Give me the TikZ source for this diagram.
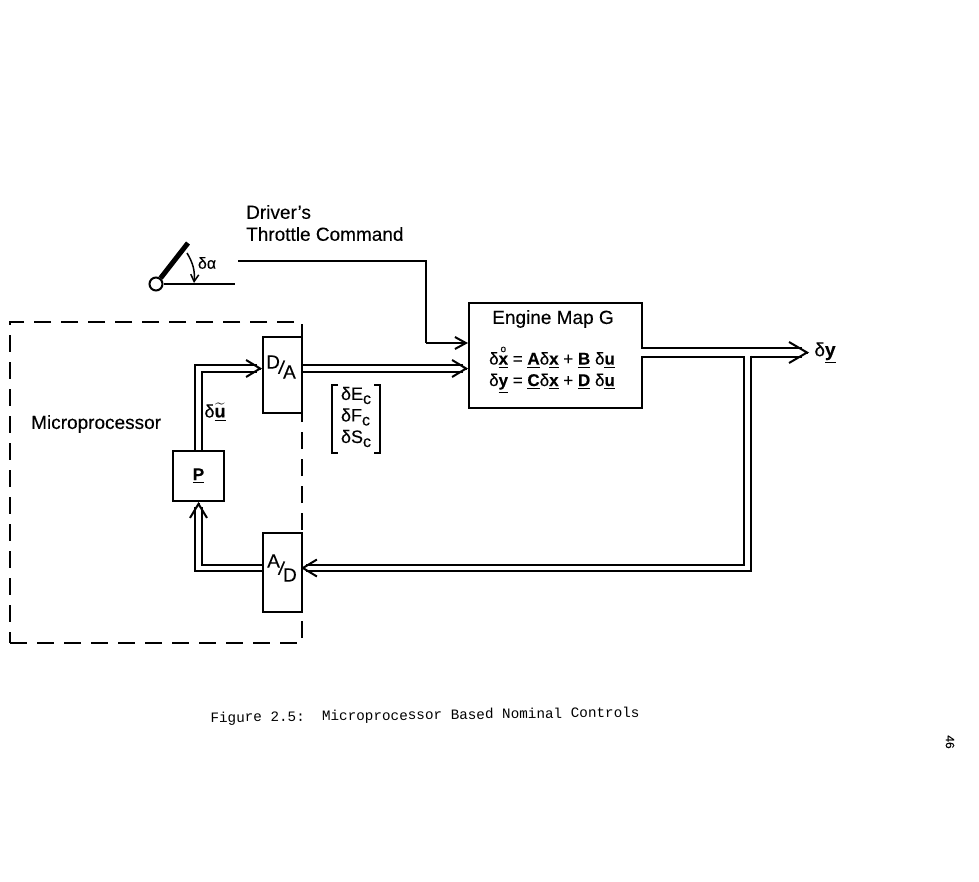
\documentclass[tikz,border=0pt]{standalone}
\usepackage{amsmath}
\usepackage{fontspec}
\setmainfont[FakeBold=0.2]{Liberation Sans}
\setmonofont{Liberation Mono}
\usetikzlibrary{arrows.meta, calc}
\newcommand{\vecb}[1]{\underline{\textbf{#1}}}
\newcommand{\updown}[3]{\raisebox{#3}{#1}\kern-2pt\rotatebox{-8}{/}\kern-2pt\raisebox{-#3}{#2}}
\newcommand{\subc}{\raisebox{-4pt}{\fontsize{16}{16}\selectfont c}}

\begin{document}
\begin{tikzpicture}[
    x=1pt, y=-1pt,
    blockbox/.style={draw, line width=2pt, fill=white, anchor=north west, inner sep=0pt},
    wiretext/.style={font=\fontsize{19}{22}\selectfont, inner sep=0pt},
    signal/.style={line width=2pt, double, double distance=4.5pt, shorten >=5pt},
    mainsignal/.style={signal, double distance=6.5pt, shorten >=7pt},
    barb/.style 2 args={line width=2pt, -{Straight Barb[length=#1pt, width=#2pt]}}]
    \useasboundingbox (0,0) rectangle (979,881);
    % Microprocessor frame
    \node[draw, dash pattern=on 17pt off 10pt, line width=2pt, anchor=north west, minimum width=292pt, minimum height=321pt] (micro) at (9,321) {};
    \node[wiretext, anchor=west] (microLabel) at (31,424) {Microprocessor};
    % Blocks
    \node[blockbox, minimum width=39pt, minimum height=76pt] (da) at (262,336) {};
    \node[wiretext] (daLabel) at (281,367) {\updown{D}{A}{5pt}};
    \node[blockbox, minimum width=39pt, minimum height=79pt] (ad) at (262,532) {};
    \node[wiretext] (adLabel) at (282,568) {\updown{A}{D}{7pt}};
    \node[blockbox, minimum width=51pt, minimum height=50pt, font=\fontsize{17}{18}\selectfont] (pgain) at (172,450) {\vecb{P}};
    \node[blockbox, minimum width=173pt, minimum height=105pt] (engine) at (468,302) {};
    \node[wiretext] (engineTitle) at (553,319) {Engine Map G};
    \node[wiretext, align=center, font=\fontsize{17}{21.5}\selectfont] (engineEq) at (552,369) {δ$\overset{\mbox{\fontsize{10}{10}\selectfont o}}{\mbox{\vecb{x}}}$ = \vecb{A}δ\vecb{x} + \vecb{B} δ\vecb{u}\\δ\vecb{y} = \vecb{C}δ\vecb{x} + \vecb{D} δ\vecb{u}};
    % Throttle lever
    \node[draw, circle, line width=2pt, minimum size=13pt, inner sep=0pt] (pivot) at (156,284) {};
    \coordinate (leverEnd) at (188,243);
    \coordinate (baseEnd) at (235,284);
    \coordinate (throttleStart) at (238,261);
    \coordinate (throttleIn) at (426,343);
    \draw[line width=5pt] (pivot) -- (leverEnd);
    \draw[line width=2pt] (pivot) -- (baseEnd);
    \draw[line width=1.5pt, -{Straight Barb[length=7pt, width=8pt]}] (187,253) to[bend left=18] (194,283);
    \node[wiretext, font=\fontsize{16}{20}\selectfont] (alpha) at (207,263) {δα};
    % Driver command
    \node[wiretext, anchor=west, align=left, font=\fontsize{19}{22}\selectfont] (driver) at (246,223) {Driver's\\Throttle Command};
    \draw[line width=2pt] (throttleStart) -| (throttleIn);
    \draw[barb={11}{12}] (throttleIn) -- (throttleIn -| engine.west);
    % Signal paths
    \coordinate (daIn) at (262,368.5);
    \coordinate (adOut) at (301,568);
    \coordinate (fbTop) at (747.5,355.5);
    \coordinate (mainOut) at (641,352.5);
    \coordinate (tipY) at (809,352.5);
    \draw[signal] (pgain.north) |- (daIn);
    \draw[signal] (da.east |- daIn) -- (daIn -| engine.west);
    \draw[signal] (ad.west |- adOut) -| (pgain.south);
    \draw[mainsignal] (mainOut) -- (tipY);
    \draw[signal] (fbTop) |- (adOut);
    % Arrow heads on the double lines
    \draw[barb={14}{17}] ($(daIn)+(-1,0)$) -- (daIn);
    \draw[barb={14}{17}] ($(daIn -| engine.west)+(-1,0)$) -- (daIn -| engine.west);
    \draw[barb={14}{17}] ($(pgain.south)+(0,1)$) -- (pgain.south);
    \draw[barb={14}{17}] ($(adOut)+(1,0)$) -- (adOut);
    \draw[barb={18}{21}] ($(tipY)+(-1,0)$) -- (tipY);
    \node[wiretext] (output) at (825,353) {δ\vecb{y}};
    % Control vector
    \node[wiretext, align=left, font=\fontsize{18}{21.5}\selectfont] (vector) at (356,417) {δE\subc\\δF\subc\\δS\subc};
    \draw[line width=2pt] ($(332,385)+(6,0)$) -- (332,385) -- (332,453) -- (338,453);
    \draw[line width=2pt] ($(380,385)+(-6,0)$) -- (380,385) -- (380,453) -- (374,453);
    \node[wiretext, font=\fontsize{18}{20}\selectfont] (duLabel) at (215,412) {δ$\widetilde{\mbox{\vecb{u}}}$};
    % Caption and page number
    \node[font=\ttfamily\fontsize{14.3}{16}\selectfont, rotate=0.7, inner sep=0pt] (caption) at (425,716) {Figure 2.5:\ \ Microprocessor Based Nominal Controls};
    \node[font=\fontsize{12}{14}\selectfont, rotate=-90, inner sep=0pt] (page) at (950,742) {46};
\end{tikzpicture}
\end{document}
